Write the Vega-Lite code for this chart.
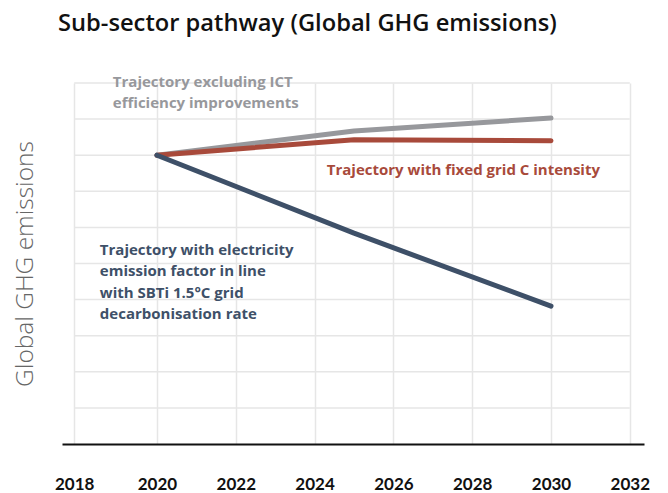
{
  "$schema": "https://vega.github.io/schema/vega-lite/v6.json",
  "autosize": {"type": "none"},
  "width": 582,
  "height": 361,
  "padding": {"left": 62, "top": 83, "right": 24, "bottom": 49},
  "background": "white",
  "config": {"view": {"stroke": null}, "font": "Open Sans"},
  "title": {
    "text": "Sub-sector pathway (Global GHG emissions)",
    "anchor": "start",
    "frame": "group",
    "fontSize": 23.7,
    "font": "Open Sans",
    "fontWeight": 600,
    "color": "#111111",
    "dx": -4,
    "offset": 39
  },
  "datasets": {
    "lines": [
      {"series": "grey", "year": 2020, "value": 8.0},
      {"series": "grey", "year": 2025, "value": 8.67},
      {"series": "grey", "year": 2030, "value": 9.03},
      {"series": "red", "year": 2020, "value": 8.0},
      {"series": "red", "year": 2025, "value": 8.43},
      {"series": "red", "year": 2030, "value": 8.4},
      {"series": "dark", "year": 2020, "value": 8.0},
      {"series": "dark", "year": 2025, "value": 5.84},
      {"series": "dark", "year": 2030, "value": 3.82}
    ],
    "labels": [
      {"series": "grey", "year": 2018.88, "value": 10.03, "label": ["Trajectory excluding ICT", "efficiency improvements"]},
      {"series": "red", "year": 2024.31, "value": 7.59, "label": ["Trajectory with fixed grid C intensity"]},
      {"series": "dark", "year": 2018.55, "value": 5.37, "label": ["Trajectory with electricity", "emission factor in line", "with SBTi 1.5°C grid", "decarbonisation rate"]}
    ],
    "grid": [
      {"value": 1}, {"value": 2}, {"value": 3}, {"value": 4}, {"value": 5},
      {"value": 6}, {"value": 7}, {"value": 8}, {"value": 9}, {"value": 10}
    ]
  },
  "layer": [
    {
      "data": {"name": "grid"},
      "mark": {"type": "rule", "color": "#e6e6e6", "strokeWidth": 1.5},
      "encoding": {
        "x": {"datum": 2017.9, "type": "quantitative"},
        "x2": {"datum": 2032},
        "y": {"field": "value", "type": "quantitative"}
      }
    },
    {
      "data": {"name": "lines"},
      "mark": {"type": "line", "strokeWidth": 5, "strokeCap": "round", "strokeJoin": "round"},
      "encoding": {
        "x": {
          "field": "year",
          "type": "quantitative",
          "scale": {"domain": [2017.59, 2032.36], "nice": false, "zero": false},
          "axis": {
            "values": [2017.9, 2020, 2022, 2024, 2026, 2028, 2030, 2032],
            "format": "d",
            "title": null,
            "grid": true,
            "gridColor": "#e6e6e6",
            "gridWidth": 1.5,
            "ticks": false,
            "domain": true,
            "domainColor": "#111111",
            "domainWidth": 2,
            "labelFont": "Lato",
            "labelFontSize": 17,
            "labelFontWeight": "bold",
            "labelColor": "#111111",
            "labelPadding": 40,
            "labelBaseline": "middle"
          }
        },
        "y": {
          "field": "value",
          "type": "quantitative",
          "scale": {"domain": [0, 10], "nice": false},
          "axis": {
            "title": "Global GHG emissions",
            "titleFont": "Open Sans",
            "titleFontSize": 24.5,
            "titleFontWeight": 300,
            "titleColor": "#666666",
            "titlePadding": 25,
            "labels": false,
            "ticks": false,
            "domain": false,
            "grid": false
          }
        },
        "color": {
          "field": "series",
          "type": "nominal",
          "scale": {"domain": ["grey", "red", "dark"], "range": ["#97989c", "#a84a3b", "#3e5068"]},
          "legend": null
        }
      }
    },
    {
      "data": {"name": "labels"},
      "mark": {"type": "text", "align": "left", "baseline": "middle", "font": "Open Sans", "fontSize": 15, "fontWeight": "bold", "lineHeight": 21.3},
      "encoding": {
        "x": {"field": "year", "type": "quantitative"},
        "y": {"field": "value", "type": "quantitative"},
        "text": {"field": "label"},
        "color": {"field": "series", "type": "nominal", "legend": null}
      }
    }
  ]
}
